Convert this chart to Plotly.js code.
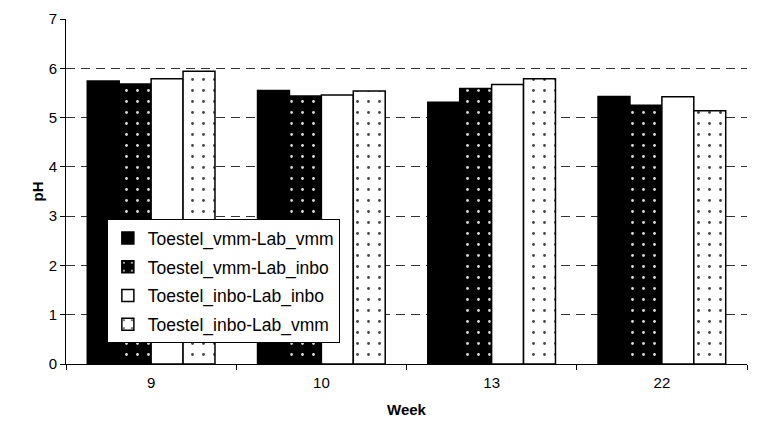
<!DOCTYPE html>
<html>
<head>
<meta charset="utf-8">
<script src="https://cdn.plot.ly/plotly-3.0.1.min.js"></script>
<style>html,body{margin:0;padding:0;background:#fff}#chart{width:757px;height:432px}</style>
</head>
<body>
<div id="chart"></div>
<script>
const weeks = ["9", "10", "13", "22"];
const seriesNames = ["Toestel_vmm-Lab_vmm", "Toestel_vmm-Lab_inbo", "Toestel_inbo-Lab_inbo", "Toestel_inbo-Lab_vmm"];
const vmmVmm = [5.74, 5.55, 5.31, 5.43];
const vmmInbo = [5.68, 5.44, 5.59, 5.25];
const inboInbo = [5.79, 5.46, 5.67, 5.42];
const inboVmm = [5.94, 5.54, 5.79, 5.14];

const styles = [
  {color: "#000000", pattern: {shape: ""}},
  {color: "#000000", pattern: {shape: ".", fgcolor: "#dddddd", bgcolor: "#000000", size: 11, solidity: 0.05}},
  {color: "#ffffff", pattern: {shape: ""}},
  {color: "#ffffff", pattern: {shape: ".", fgcolor: "#444444", bgcolor: "#ffffff", size: 11, solidity: 0.05}}
];
const values = [vmmVmm, vmmInbo, inboInbo, inboVmm];
const traces = values.map((v, i) => ({
  type: "bar",
  name: seriesNames[i],
  legendgroup: "g" + i,
  x: weeks,
  y: v,
  marker: {color: styles[i].color, pattern: styles[i].pattern, line: {color: "#000000", width: 1.5}}
}));

const layout = {
  width: 757, height: 432,
  margin: {l: 66, r: 10, t: 19, b: 68},
  paper_bgcolor: "#ffffff", plot_bgcolor: "#ffffff",
  font: {family: "Liberation Sans, Arial, sans-serif", size: 15, color: "#000"},
  barmode: "group", bargap: 0.25, bargroupgap: 0,
  showlegend: true,
  legend: {x: 0.06, y: 0.42, xanchor: "left", yanchor: "top", bgcolor: "#ffffff", bordercolor: "#000000", borderwidth: 1, font: {size: 17.5}, itemwidth: 30, tracegroupgap: 3},
  xaxis: {
    type: "category", showline: true, linecolor: "#000", linewidth: 1,
    ticks: "outside", tickson: "boundaries", ticklen: 5, tickcolor: "#000",
    ticklabelstandoff: 5,
    showgrid: false, zeroline: false,
    title: {text: "<b>Week</b>", font: {size: 15}, standoff: 14}
  },
  yaxis: {
    range: [0, 7], dtick: 1, showline: true, linecolor: "#000", linewidth: 1,
    ticks: "outside", ticklen: 5, tickcolor: "#000",
    showgrid: true, gridcolor: "#333", griddash: "9px,6px", gridwidth: 1,
    zeroline: false,
    title: {text: "<b>pH</b>", font: {size: 15}, standoff: 1}
  }
};
Plotly.newPlot("chart", traces, layout, {staticPlot: true});
</script>
</body>
</html>
